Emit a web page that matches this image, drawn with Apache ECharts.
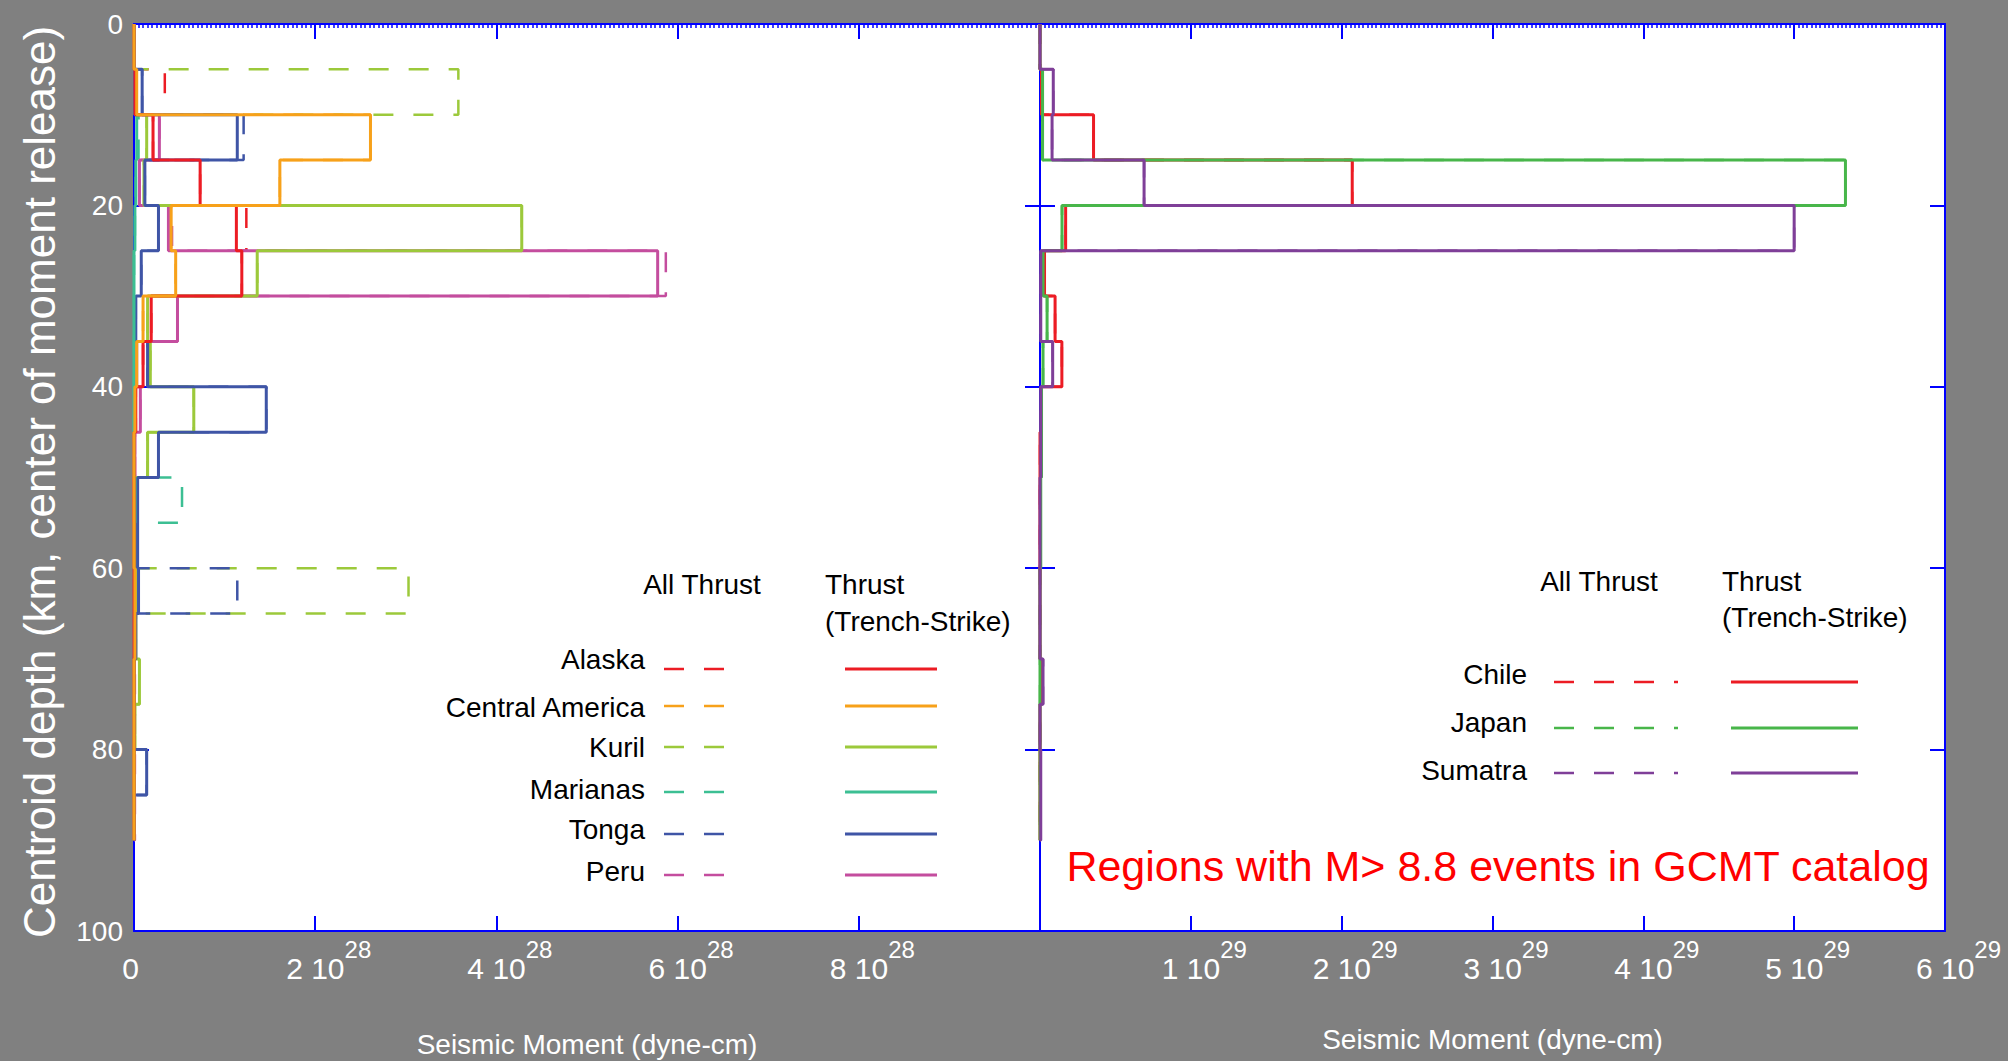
<!DOCTYPE html>
<html><head><meta charset="utf-8">
<script src="https://cdn.jsdelivr.net/npm/echarts@6/dist/echarts.min.js"></script>
<style>html,body{margin:0;padding:0;background:#808080;overflow:hidden}#c{width:2008px;height:1061px}</style>
</head><body><div id="c"></div>
<script>
// ---------- DATA ----------
// depth bin edges (km), 5-km bins
const depthEdges = [0,5,10,15,20,25,30,35,40,45,50,55,60,65,70,75,80,85,90];

// Left panel: seismic moment per bin, in units of 10^28 dyne-cm
const leftRegions = ['Alaska','Central America','Kuril','Marianas','Tonga','Peru'];
const leftColors  = ['#ec1c24','#f7a11a','#9cc93b','#3cbf93','#3f55a6','#c44d9e'];
// Thrust (Trench-Strike)
const alaskaTS   = [0,0.01,0.21,0.73,1.13,1.19,0.19,0.10,0.02,0,0,0,0,0,0,0,0,0];
const centralTS  = [0,0.03,2.61,1.61,0.41,0.46,0.10,0.03,0.01,0,0,0,0.01,0.01,0,0,0,0];
const kurilTS    = [0,0.02,0.14,0.11,4.28,1.36,0.15,0.18,0.66,0.15,0.02,0.02,0.02,0.02,0.06,0.01,0,0];
const marianasTS = [0,0.01,0.03,0.02,0.01,0,0,0,0,0,0.01,0,0,0,0,0,0,0];
const tongaTS    = [0,0.09,1.14,0.12,0.27,0.08,0.02,0.15,1.46,0.27,0.04,0.04,0.05,0.02,0,0,0.14,0];
const peruTS     = [0,0.02,0.28,0.06,0.38,5.78,0.48,0.03,0.07,0.01,0,0,0,0,0,0,0,0];
// All Thrust
const alaskaAll   = [0,0.34,0.21,0.73,1.24,1.19,0.19,0.10,0.02,0.01,0,0,0,0,0,0,0,0];
const centralAll  = [0,0.03,2.61,1.61,0.41,0.46,0.10,0.03,0.01,0,0,0,0.01,0.01,0,0,0,0];
const kurilAll    = [0,3.58,0.14,0.11,4.28,1.36,0.15,0.18,0.66,0.15,0.02,0.02,3.03,0.02,0.06,0.01,0,0];
const marianasAll = [0,0.02,0.05,0.02,0.01,0,0,0,0,0,0.53,0.01,0,0,0,0,0,0];
const tongaAll    = [0,0.09,1.21,0.12,0.27,0.08,0.02,0.15,1.46,0.27,0.04,0.04,1.14,0.02,0,0,0.14,0];
const peruAll     = [0,0.02,0.28,0.06,0.42,5.87,0.48,0.03,0.07,0.01,0.01,0.01,0.01,0.01,0.01,0.01,0.01,0.01];

// Right panel: seismic moment per bin, in units of 10^29 dyne-cm
const rightRegions = ['Chile','Japan','Sumatra'];
const rightColors  = ['#ec1c24','#48b64a','#7f3f98'];
const chileTS   = [0,0.01,0.355,2.07,0.17,0.03,0.10,0.145,0.01,0,0,0,0,0,0.01,0,0,0];
const japanTS   = [0,0.017,0.017,5.34,0.146,0.02,0.047,0.02,0.01,0.01,0.005,0.005,0,0,0,0,0,0];
const sumatraTS = [0,0.088,0.08,0.69,5.0,0.005,0.005,0.084,0.005,0.005,0,0,0,0,0.02,0,0.005,0.005];
const chileAll   = [0,0.01,0.355,2.07,0.17,0.03,0.10,0.145,0.01,0,0,0,0,0,0.01,0,0,0];
const japanAll   = [0,0.017,0.017,5.34,0.146,0.02,0.047,0.02,0.01,0.01,0.005,0.005,0,0,0,0,0,0];
const sumatraAll = [0,0.088,0.08,0.69,5.0,0.005,0.005,0.084,0.005,0.005,0,0,0,0,0.02,0,0.005,0.005];

// Tick labels
const yTicks = [0,20,40,60,80,100];
const yTickText = ['0','20','40','60','80','100'];
const leftXTicks = [0,2,4,6,8,10];
const leftXTickText = ['0','2 10','4 10','6 10','8 10',''];
const leftXExp = '28';
const rightXTicks = [0,1,2,3,4,5,6];
const rightXTickText = ['','1 10','2 10','3 10','4 10','5 10','6 10'];
const rightXExp = '29';

const xTitle = 'Seismic Moment (dyne-cm)';
const yTitle = 'Centroid depth (km, center of moment release)';
const noteText = 'Regions with M> 8.8 events in GCMT catalog';

// ---------- CHART ----------
const FONT = 'Liberation Sans';
const BLUE = '#0000ff';

function stairs(vals){
  const pts = [];
  for (let i = 0; i < vals.length; i++){
    pts.push([vals[i], depthEdges[i]]);
    pts.push([vals[i], depthEdges[i+1]]);
  }
  pts.push([0, depthEdges[vals.length]]);
  return pts;
}
function mk(name, vals, color, dashed, panel){
  return {
    name, type:'line', data: stairs(vals),
    xAxisIndex: panel === 0 ? 0 : 2, yAxisIndex: panel === 0 ? 0 : 2,
    symbol:'none', showSymbol:false, silent:true, animation:false,
    lineStyle:{color, width: dashed ? 2.5 : 3, type: dashed ? [20,20] : 'solid'},
    itemStyle:{color}, z: dashed ? 3 : 4
  };
}
const rich = {
  b:{fontFamily:FONT, fontSize:30, color:'#fff', verticalAlign:'bottom'},
  bp:{fontFamily:FONT, fontSize:30, color:'#fff', verticalAlign:'bottom', padding:[0,0,0,27]},
  s:{fontFamily:FONT, fontSize:24, color:'#fff', verticalAlign:'bottom', padding:[0,0,22,0]}
};
function xFmt(ticks, texts, exp){
  return function(v){
    const i = ticks.indexOf(Math.round(v*1000)/1000);
    if (i < 0 || !texts[i]) return '';
    if (texts[i] === '0') return '{b|0}{s| }';
    return '{bp|' + texts[i] + '}{s|' + exp + '}';
  };
}
function yFmt(v){ const i = yTicks.indexOf(v); return i < 0 ? '' : yTickText[i]; }

const axLine = {show:true, onZero:false, lineStyle:{color:BLUE, width:2}};
const axTick = {show:true, inside:true, length:15, lineStyle:{color:BLUE, width:2}};
const nameStyle = {color:'#fff', fontFamily:FONT, fontSize:28};

function xAx(grid, pos, max, interval, fmt, name, gap, minorN){
  const a = {gridIndex:grid, type:'value', position:pos, min:0, max, interval,
    axisLine:axLine, axisTick:axTick, splitLine:{show:false}};
  if (pos === 'bottom'){
    a.axisLabel = {show:true, margin:6, formatter:fmt, rich};
    a.name = name; a.nameLocation = 'middle'; a.nameGap = gap; a.nameTextStyle = nameStyle;
  } else {
    a.axisLabel = {show:false};
    a.minorTick = {show:true, splitNumber:minorN, length:4, lineStyle:{color:BLUE, width:1.5}};
  }
  return a;
}
function yAx(grid, pos, labels){
  return {gridIndex:grid, type:'value', position:pos, inverse:true, min:0, max:100, interval:20,
    axisLine:axLine, axisTick:axTick, splitLine:{show:false},
    axisLabel: labels ? {show:true, color:'#fff', fontFamily:FONT, fontSize:28, margin:11, formatter:yFmt} : {show:false}};
}

const series = [];
const leftAll = [alaskaAll, centralAll, kurilAll, marianasAll, tongaAll, peruAll];
const leftTS  = [alaskaTS, centralTS, kurilTS, marianasTS, tongaTS, peruTS];
leftAll.forEach((v,i) => series.push(mk(leftRegions[i]+' All Thrust', v, leftColors[i], true, 0)));
[5,2,4,3,0,1].forEach(i => series.push(mk(leftRegions[i]+' Thrust (Trench-Strike)', leftTS[i], leftColors[i], false, 0)));
const rAll = [chileAll, japanAll, sumatraAll];
const rTS  = [chileTS, japanTS, sumatraTS];
rAll.forEach((v,i) => series.push(mk(rightRegions[i]+' All Thrust', v, rightColors[i], true, 1)));
rTS.forEach((v,i) => series.push(mk(rightRegions[i]+' Thrust (Trench-Strike)', v, rightColors[i], false, 1)));

// legend graphics
const graphic = [];
function txt(x, y, text, opts){
  graphic.push({type:'text', x, y, silent:true, z:10, style:Object.assign({text, fill:'#000', fontFamily:FONT, fontSize:28, textAlign:'left', textVerticalAlign:'middle'}, opts||{})});
}
function ln(x1, x2, y, color, dashed){
  graphic.push({type:'line', silent:true, z:10, shape:{x1, y1:y, x2, y2:y}, style:{stroke:color, lineWidth: dashed ? 2.5 : 3, lineDash: dashed ? [20,20] : null}});
}
// left legend
txt(702, 584, 'All Thrust', {textAlign:'center'});
txt(825, 584, 'Thrust');
txt(825, 621, '(Trench-Strike)');
const lTextY = [659, 707, 747, 789, 829, 871];
const lLineY = [669, 706, 747, 792, 834, 875];
leftRegions.forEach((r,i) => {
  txt(645, lTextY[i], r, {textAlign:'right'});
  ln(664, 725, lLineY[i], leftColors[i], true);
  ln(845, 937, lLineY[i], leftColors[i], false);
});
// right legend
txt(1599, 581, 'All Thrust', {textAlign:'center'});
txt(1722, 581, 'Thrust');
txt(1722, 617, '(Trench-Strike)');
const rTextY = [674, 722, 770];
const rLineY = [682, 728, 773];
rightRegions.forEach((r,i) => {
  txt(1527, rTextY[i], r, {textAlign:'right'});
  ln(1554, 1678, rLineY[i], rightColors[i], true);
  ln(1731, 1858, rLineY[i], rightColors[i], false);
});
// annotation and y title
txt(1498, 866, noteText, {textAlign:'center', fill:'#ff0000', fontSize:43});
graphic.push({type:'text', x:39, y:482, rotation:Math.PI/2, silent:true, z:10,
  style:{text:yTitle, fill:'#fff', fontFamily:FONT, fontSize:44, textAlign:'center', textVerticalAlign:'middle'}});

const option = {
  backgroundColor:'#808080',
  animation:false,
  grid:[
    {left:134, top:24, width:906, height:907, show:true, backgroundColor:'#ffffff', borderWidth:0, containLabel:false, outerBoundsMode:'none'},
    {left:1040, top:24, width:905, height:907, show:true, backgroundColor:'#ffffff', borderWidth:0, containLabel:false, outerBoundsMode:'none'}
  ],
  xAxis:[
    xAx(0,'bottom',10,2,xFmt(leftXTicks,leftXTickText,leftXExp),xTitle,99),
    xAx(0,'top',10,2,null,null,0,40),
    xAx(1,'bottom',6,1,xFmt(rightXTicks,rightXTickText,rightXExp),xTitle,94),
    xAx(1,'top',6,1,null,null,0,35)
  ],
  yAxis:[ yAx(0,'left',true), yAx(0,'right',false), yAx(1,'left',false), yAx(1,'right',false) ],
  series,
  graphic
};
const chart = echarts.init(document.getElementById('c'), null, {renderer:'svg', width:2008, height:1061});
chart.setOption(option);
</script></body></html>
